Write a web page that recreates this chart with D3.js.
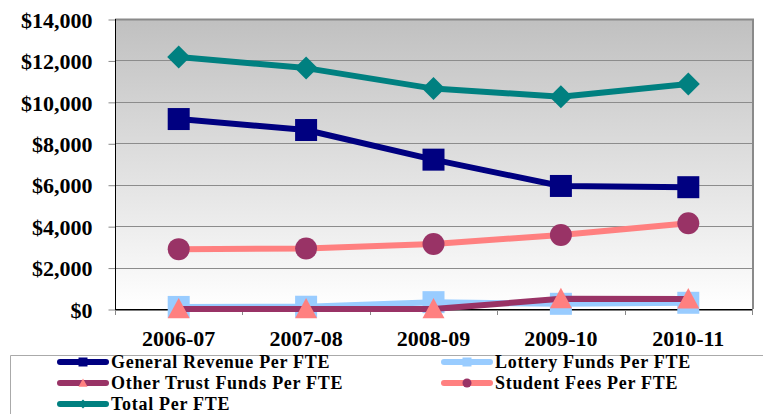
<!DOCTYPE html>
<html>
<head>
<meta charset="utf-8">
<script src="https://cdnjs.cloudflare.com/ajax/libs/d3/7.8.5/d3.min.js"></script>
<style>
  body { margin: 0; background: #fff; }
  text { font-family: "Liberation Serif", serif; font-weight: bold; fill: #000; }
</style>
</head>
<body>
<div id="chart"></div>
<script>

// data
var years = ["2006-07", "2007-08", "2008-09", "2009-10", "2010-11"];
var generalRevenue = [9170, 8640, 7210, 5940, 5880];
var lottery = [100, 110, 330, 250, 300];
var otherTrust = [0, 0, 0, 490, 480];
var studentFees = [2890, 2920, 3140, 3570, 4140];
var total = [12170, 11630, 10640, 10250, 10860];
var yTicks = [0, 2000, 4000, 6000, 8000, 10000, 12000, 14000];

var series = [
  {name: "General Revenue Per FTE", values: generalRevenue, line: "#000080", marker: "#000080", shape: "square"},
  {name: "Lottery Funds Per FTE", values: lottery, line: "#99ccff", marker: "#99ccff", shape: "square"},
  {name: "Other Trust Funds Per FTE", values: otherTrust, line: "#993366", marker: "#ff8080", shape: "triangle"},
  {name: "Student Fees Per FTE", values: studentFees, line: "#ff8080", marker: "#993366", shape: "circle"},
  {name: "Total Per FTE", values: total, line: "#008080", marker: "#008080", shape: "diamond"}
];

var W = 763, H = 414;
var plot = {left: 115, right: 752, top: 19, bottom: 309};

var svg = d3.select("#chart")
  .append("svg")
    .attr("width", W)
    .attr("height", H);

var defs = svg.append("defs");
var grad = defs.append("linearGradient")
    .attr("id", "bg")
    .attr("x1", 0).attr("y1", 0).attr("x2", 0).attr("y2", 1);
grad.append("stop").attr("offset", "0%").attr("stop-color", "#c0c0c0");
grad.append("stop").attr("offset", "100%").attr("stop-color", "#ffffff");

var x = d3.scaleBand()
  .domain(years)
  .range([plot.left, plot.right]);

var y = d3.scaleLinear()
  .domain([0, 14000])
  .range([plot.bottom, plot.top]);

// plot background
svg.append("rect")
  .attr("x", plot.left)
  .attr("y", plot.top)
  .attr("width", plot.right - plot.left)
  .attr("height", plot.bottom - plot.top)
  .attr("fill", "url(#bg)");

// gridlines
svg.append("g")
  .selectAll("line")
  .data(yTicks.slice(1))
  .enter()
  .append("line")
    .attr("x1", plot.left)
    .attr("x2", plot.right)
    .attr("y1", function (d) { return Math.round(y(d)) + 0.5; })
    .attr("y2", function (d) { return Math.round(y(d)) + 0.5; })
    .attr("stroke", "#8c8c8c")
    .attr("stroke-width", 1);

// top and right border
svg.append("path")
  .attr("d", "M" + plot.left + "," + (plot.top + 0.5) + "H" + (plot.right + 1) + "V" + plot.bottom)
  .attr("fill", "none")
  .attr("stroke", "#8a8a8a")
  .attr("stroke-width", 2);

// Y axis
var yAxis = d3.axisLeft(y)
  .tickValues(yTicks)
  .tickSize(7)
  .tickPadding(16)
  .tickFormat(function (d) { return "$" + d3.format(",")(d); });
var gy = svg.append("g")
  .attr("transform", "translate(" + (plot.left + 0.5) + ",0.5)")
  .call(yAxis);
gy.selectAll(".tick line").attr("stroke", "#888");
gy.selectAll("text")
  .style("font-size", "22px")
  .attr("dy", "0.35em");

// X axis
var xAxis = d3.axisBottom(x)
  .tickSize(0)
  .tickPadding(21);
var gx = svg.append("g")
  .attr("transform", "translate(0," + (plot.bottom + 0.5) + ")")
  .call(xAxis);
gx.selectAll("text").style("font-size", "22px");
gx.select(".domain").attr("stroke", "#000");

// x ticks at category boundaries
var bounds = years.map(function (d) { return x(d); }).concat([plot.right]);
svg.append("g")
  .selectAll("line")
  .data(bounds)
  .enter()
  .append("line")
    .attr("x1", function (d) { return Math.round(d) + 0.5; })
    .attr("x2", function (d) { return Math.round(d) + 0.5; })
    .attr("y1", plot.bottom)
    .attr("y2", plot.bottom + 6)
    .attr("stroke", "#888");

gy.select(".domain").remove();
svg.append("line")
  .attr("x1", plot.left + 0.5).attr("x2", plot.left + 0.5)
  .attr("y1", plot.top).attr("y2", plot.bottom + 1)
  .attr("stroke", "#000");
svg.append("line")
  .attr("x1", plot.left).attr("x2", plot.right)
  .attr("y1", plot.bottom + 0.5).attr("y2", plot.bottom + 0.5)
  .attr("stroke", "#000");

var cx = function (i) { return x(years[i]) + x.bandwidth() / 2; };

function shapePath(shape, s) {
  var h = s / 2;
  if (shape == "square") return "M" + (-h) + "," + (-h) + "h" + s + "v" + s + "h" + (-s) + "Z";
  if (shape == "diamond") return "M0," + (-h) + "L" + h + ",0L0," + h + "L" + (-h) + ",0Z";
  if (shape == "triangle") return "M0," + (-h) + "L" + h + "," + (h * 0.85) + "L" + (-h) + "," + (h * 0.85) + "Z";
  return d3.symbol().type(d3.symbolCircle).size(Math.PI * h * h)();
}

var line = d3.line()
  .x(function (d, i) { return cx(i); })
  .y(function (d) { return y(d); });

series.forEach(function (s) {
  var g = svg.append("g");
  g.append("path")
    .attr("d", line(s.values))
    .attr("fill", "none")
    .attr("stroke", s.line)
    .attr("stroke-width", 6)
    .attr("stroke-linejoin", "round");
  g.selectAll(".mk")
    .data(s.values)
    .enter()
    .append("path")
      .attr("d", shapePath(s.shape, s.shape == "diamond" ? 23 : 22))
      .attr("transform", function (d, i) { return "translate(" + cx(i) + "," + y(d) + ")"; })
      .attr("fill", s.marker);
});

// legend
svg.append("path")
  .attr("d", "M10.5," + H + "V355.5H" + W)
  .attr("fill", "none")
  .attr("stroke", "#aaa");

var legendPos = [[58, 362], [442, 362], [58, 383], [442, 383], [58, 404]];
series.forEach(function (s, i) {
  var p = legendPos[i];
  var g = svg.append("g").attr("transform", "translate(" + p[0] + "," + p[1] + ")");
  g.append("line")
    .attr("x1", 2).attr("x2", 48)
    .attr("stroke", s.line)
    .attr("stroke-width", 6)
    .attr("stroke-linecap", "round");
  g.append("path")
    .attr("d", shapePath(s.shape, 9))
    .attr("transform", "translate(25,0)")
    .attr("fill", s.marker);
  g.append("text")
    .attr("x", 53)
    .attr("dy", "0.33em")
    .style("font-size", "18px")
    .style("letter-spacing", "0.7px")
    .text(s.name);
});

</script>
</body>
</html>
